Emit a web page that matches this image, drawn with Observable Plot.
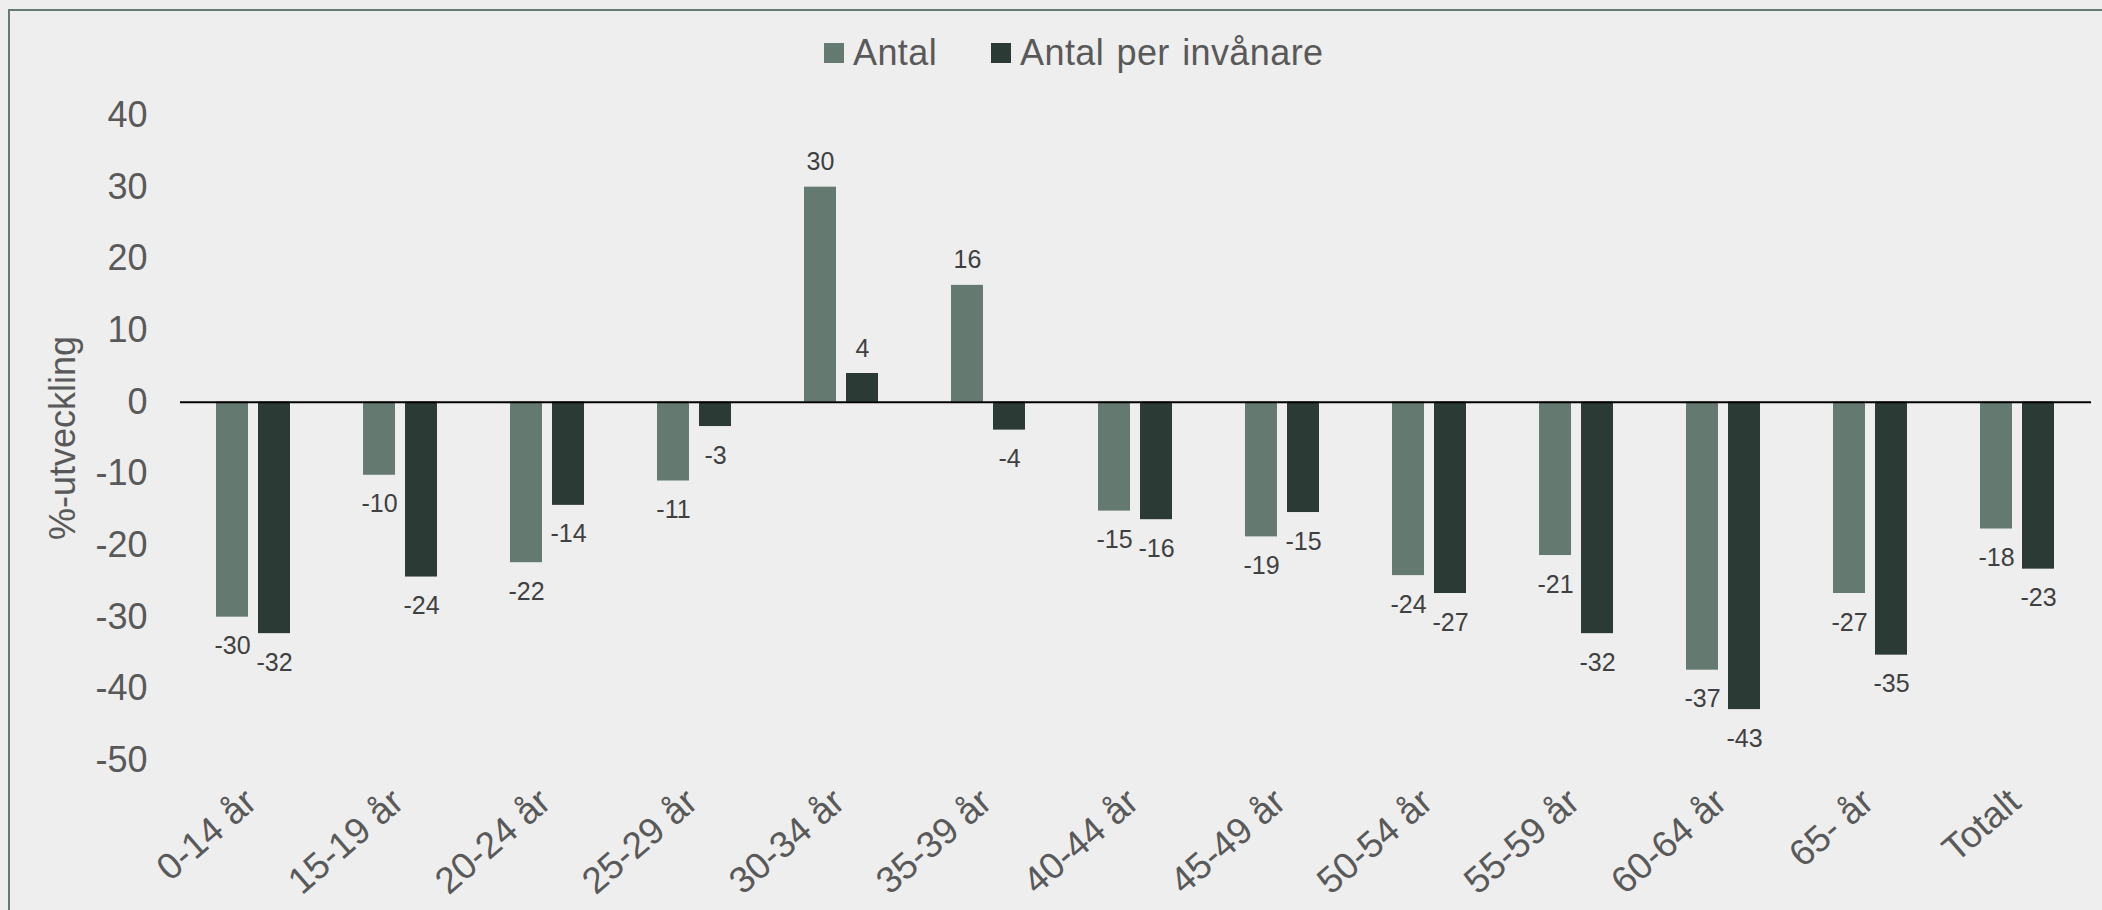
<!DOCTYPE html>
<html><head><meta charset="utf-8">
<script src="https://cdn.jsdelivr.net/npm/d3@7"></script>
<script src="https://cdn.jsdelivr.net/npm/@observablehq/plot@0.6"></script>
<style>
html,body{margin:0;padding:0;background:#eeeeee;overflow:hidden;width:2102px;height:910px}
#frame{position:absolute;left:8px;top:9px;width:2200px;height:1000px;border-left:2.5px solid #657a70;border-top:2px solid #657a70;box-sizing:border-box;pointer-events:none;z-index:5}
#chart{position:absolute;left:0;top:0}
#legend{position:absolute;left:824px;top:32px}
.lg-swatch{margin-right:54px !important;word-spacing:2px;letter-spacing:0.4px}
.lg-swatch > svg{margin-right:9px !important}
</style></head>
<body>
<div id="chart"></div><div id="legend"></div><div id="frame"></div>
<script>
const categories = ["0-14 år", "15-19 år", "20-24 år", "25-29 år", "30-34 år", "35-39 år", "40-44 år", "45-49 år", "50-54 år", "55-59 år", "60-64 år", "65- år", "Totalt"];
const series = ["Antal", "Antal per invånare"];
const antal = [-30.0, -10.2, -22.4, -11.0, 30.0, 16.3, -15.2, -18.8, -24.2, -21.4, -37.4, -26.7, -17.7];
const perInvanare = [-32.3, -24.4, -14.4, -3.4, 4.0, -3.9, -16.4, -15.4, -26.7, -32.3, -42.9, -35.3, -23.3];
const yTicks = [-50, -40, -30, -20, -10, 0, 10, 20, 30, 40];
const yLabel = "%-utveckling";
const colors = ["#647a70", "#2b3a34"];

const rows = [];
categories.forEach((c, i) => {
  rows.push({cat: c, series: series[0], value: antal[i]});
  rows.push({cat: c, series: series[1], value: perInvanare[i]});
});
const fmt = d => String(Math.round(d.value));
const font = '"Liberation Sans", Arial, sans-serif';

const chart = Plot.plot({
  width: 2102,
  height: 910,
  marginLeft: 175,
  marginRight: 7,
  marginTop: 115,
  marginBottom: 150,
  style: {background: "transparent", fontFamily: font, fontSize: "36px", color: "#595959"},
  fx: {domain: categories, paddingInner: 0, paddingOuter: 0},
  x: {domain: series, paddingInner: 0.238, paddingOuter: 0.85, axis: null},
  y: {domain: [-50, 40]},
  color: {domain: series, range: colors},
  marks: [
    Plot.barY(rows, {fx: "cat", x: "series", y: "value", fill: "series"}),
    Plot.ruleY([0], {stroke: "#000000", strokeWidth: 2}),
    Plot.text(rows, {filter: d => d.value >= 0, fx: "cat", x: "series", y: "value", text: fmt, dy: -25, fontSize: 25, fill: "#404040", fontFamily: font}),
    Plot.text(rows, {filter: d => d.value < 0, fx: "cat", x: "series", y: "value", text: fmt, dy: 29, fontSize: 25, fill: "#404040", fontFamily: font}),
    Plot.axisY({ticks: yTicks, tickFormat: d => String(d), tickSize: 0, tickPadding: 33, fontSize: 36, fill: "#595959", label: yLabel, labelAnchor: "center", labelOffset: 131, labelArrow: "none"}),
    Plot.axisFx({anchor: "bottom", tickSize: 0, tickPadding: 36, dx: -3, tickRotate: -41, fontSize: 37, fill: "#595959", label: null})
  ]
});
document.getElementById("chart").appendChild(chart);

const legend = Plot.legend({
  color: {domain: series, range: colors},
  legend: "swatches",
  swatchSize: 20,
  className: "lg",
  style: {fontFamily: font, fontSize: "36px", color: "#595959", margin: "0"}
});
document.getElementById("legend").appendChild(legend);
</script>
</body></html>
